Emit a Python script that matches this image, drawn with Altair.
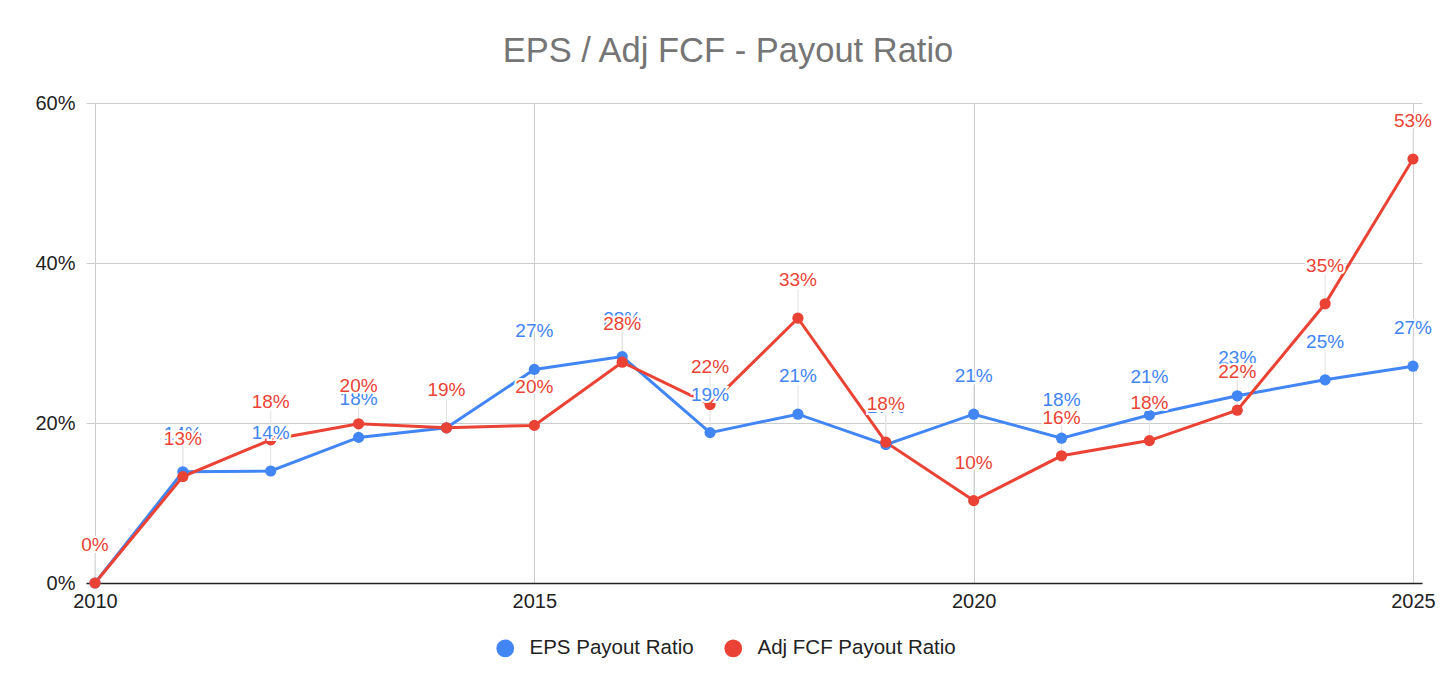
import altair as alt
import pandas as pd

years = list(range(2010, 2026))
eps_payout = [0, 13.9, 14.0, 18.2, 19.4, 26.7, 28.3, 18.8, 21.1, 17.3, 21.1, 18.1, 21.0, 23.4, 25.4, 27.1]
fcf_payout = [0, 13.3, 17.9, 19.9, 19.4, 19.7, 27.6, 22.3, 33.1, 17.6, 10.3, 15.9, 17.8, 21.6, 34.9, 53.0]
series_names = ["EPS Payout Ratio", "Adj FCF Payout Ratio"]
series_colors = ["#4285F4", "#EA4335"]

rows = []
for name, vals in zip(series_names, [eps_payout, fcf_payout]):
    for y, v in zip(years, vals):
        rows.append({"year": y, "value": v / 100.0, "series": name})
df = pd.DataFrame(rows)

FONT = "Arial, Liberation Sans, sans-serif"
cscale = alt.Scale(domain=series_names, range=series_colors)

x_enc = alt.X("year:Q", scale=alt.Scale(domain=[2010, 2025], nice=False, zero=False, padding=9),
              axis=alt.Axis(values=[2010, 2015, 2020, 2025], format="d", title=None,
                            grid=True, gridColor="#cccccc", gridWidth=1,
                            domain=True, domainColor="#222222", domainWidth=1.5,
                            ticks=False, labelFontSize=20, labelColor="#222222",
                            labelPadding=8, labelFont=FONT))
y_enc = alt.Y("value:Q", scale=alt.Scale(domain=[0, 0.6], nice=False),
              axis=alt.Axis(values=[0, 0.2, 0.4, 0.6], format=".0%", title=None,
                            grid=True, gridColor="#cccccc", gridWidth=1,
                            domain=False, ticks=False, labelFontSize=20,
                            labelColor="#222222", labelPadding=11, labelFont=FONT))
color_enc = alt.Color("series:N", scale=cscale,
                      legend=alt.Legend(title=None, orient="none", direction="horizontal",
                                        legendX=409, legendY=535, symbolType="circle",
                                        symbolSize=314, symbolStrokeWidth=0,
                                        labelFontSize=20.5, labelColor="#222222",
                                        labelFont=FONT, columnPadding=29, labelOffset=14,
                                        labelLimit=0, symbolOpacity=1))

base = alt.Chart(df)

leaders = base.mark_rule(color="#e3e3e3", strokeWidth=1, y2Offset=-29).encode(
    x="year:Q", y=alt.Y("value:Q"), y2="value:Q", detail="series:N")

lines = base.mark_line(strokeWidth=3).encode(
    x=x_enc, y=y_enc, color=color_enc, order="year:Q")

points = base.mark_circle(size=125, opacity=1).encode(
    x="year:Q", y="value:Q", color=alt.Color("series:N", legend=None, scale=cscale))

label_layers = []
for name in series_names:
    sub = base.transform_filter(alt.datum.series == name)
    halo = sub.mark_text(fontSize=19, font=FONT, dy=-38, stroke="white", strokeWidth=4,
                         baseline="middle", color="white").encode(
        x="year:Q", y="value:Q", text=alt.Text("value:Q", format=".0%"))
    lab = sub.mark_text(fontSize=19, font=FONT, dy=-38, baseline="middle").encode(
        x="year:Q", y="value:Q", text=alt.Text("value:Q", format=".0%"),
        color=alt.Color("series:N", legend=None, scale=cscale))
    label_layers += [halo, lab]

chart = alt.layer(leaders, lines, points, *label_layers).properties(
    width=1336, height=480,
    autosize=alt.AutoSizeParams(type="none"),
    padding={"left": 78, "top": 95, "right": 20, "bottom": 95},
    title=alt.TitleParams("EPS / Adj FCF - Payout Ratio", fontSize=34.5, font=FONT,
                          color="#757575", fontWeight="normal", anchor="middle",
                          dx=-26, offset=24),
).configure_view(stroke=None)

chart.save("out.html", embed_options={"renderer": "svg", "actions": False})
